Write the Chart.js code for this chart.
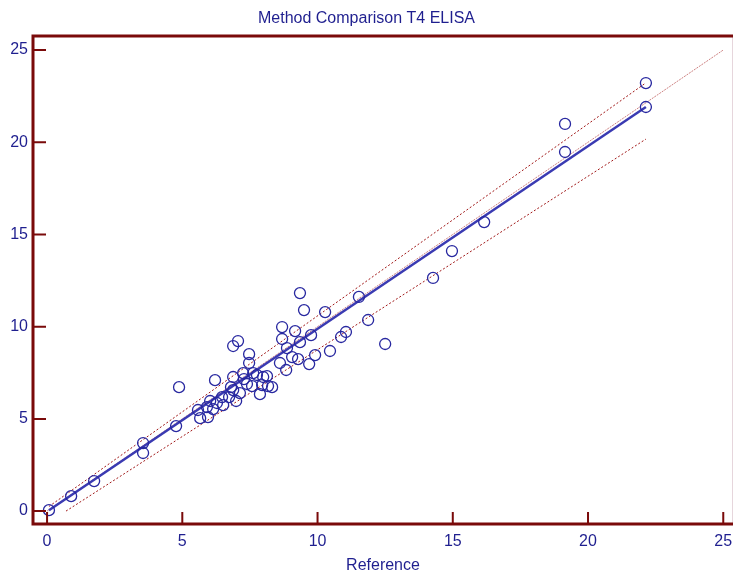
<!DOCTYPE html>
<html>
<head>
    <title>Method Comparison T4 ELISA</title>
    <script src="https://cdn.jsdelivr.net/npm/chart.js"></script>
    <style>
        body { margin: 0; background: #fff; }
        #wrap { width: 734px; height: 571px; }
    </style>
</head>
<body>
    <div id="wrap"><canvas id="grafik"></canvas></div>
<script>
    // measured values (reference method vs T4 ELISA)
    const refValues = [0.07, 0.89, 1.74, 3.55, 3.55, 4.77, 4.88, 5.58, 5.66, 5.95, 5.91, 6.03, 6.14, 6.28,
        6.51, 6.47, 6.73, 6.99, 7.13, 6.80, 6.21, 6.88, 7.25, 7.62, 7.76, 7.99, 8.13, 7.39, 7.58, 7.95,
        8.17, 8.32, 7.87, 6.88, 7.06, 7.47, 7.47, 8.61, 8.84, 9.06, 9.28, 9.91, 9.69, 10.46, 8.87, 8.69,
        8.69, 9.17, 9.35, 9.76, 10.87, 11.05, 9.35, 9.50, 10.28, 11.53, 11.87, 12.50, 14.27, 14.97, 16.16,
        19.15, 19.15, 22.14, 22.14, 6.88, 7.28];
    const elisaValues = [0.05, 0.81, 1.63, 3.69, 3.15, 4.61, 6.72, 5.48, 5.04, 5.10, 5.64, 5.97, 5.53, 5.86,
        5.75, 6.18, 6.18, 5.97, 6.40, 6.72, 7.10, 7.27, 7.48, 7.48, 7.38, 7.27, 7.32, 6.89, 6.78, 6.83,
        6.78, 6.72, 6.34, 8.95, 9.22, 8.51, 8.03, 8.03, 7.65, 8.35, 8.24, 8.46, 7.97, 8.68, 8.84, 9.33,
        9.98, 9.76, 9.16, 9.54, 9.44, 9.71, 11.82, 10.90, 10.79, 11.61, 10.36, 9.06, 12.64, 14.10, 15.67,
        20.99, 19.47, 23.21, 21.91, 6.56, 7.16];

    // fitted lines: [x start, x end] and [y start, y end]
    const regX = [0.07, 22.14];
    const regY = [0.05, 21.91];
    const upperX = [0.07, 22.14];
    const upperY = [0.25, 23.22];
    const lowerX = [0.7, 22.14];
    const lowerY = [0.0, 20.17];
    const identX = [0, 25];
    const identY = [0, 25];

    const tickValues = [0, 5, 10, 15, 20, 25];

    const textColor = '#1f1f8f';
    const frameColor = '#7a0a0a';

    function pairs(xs, ys) {
        return xs.map((x, i) => ({ x: x, y: ys[i] }));
    }

    // frame with inward tick marks
    const framePlugin = {
        id: 'frame',
        afterDraw(chart) {
            const c = chart.ctx;
            const a = chart.chartArea;
            const xs = chart.scales.x;
            const ys = chart.scales.y;
            c.save();
            c.strokeStyle = '#e6d6dc';
            c.lineWidth = 1;
            c.beginPath();
            c.moveTo(a.right - 0.5, a.top);
            c.lineTo(a.right - 0.5, a.bottom);
            c.stroke();

            c.strokeStyle = frameColor;
            c.lineWidth = 3;
            c.beginPath();
            c.moveTo(a.right, a.top);
            c.lineTo(a.left, a.top);
            c.lineTo(a.left, a.bottom);
            c.lineTo(a.right, a.bottom);
            c.stroke();

            c.lineWidth = 2;
            c.beginPath();
            tickValues.forEach(v => {
                const px = xs.getPixelForValue(v);
                c.moveTo(px, a.bottom);
                c.lineTo(px, a.bottom - 12);
                const py = ys.getPixelForValue(v);
                c.moveTo(a.left, py);
                c.lineTo(a.left + 13, py);
            });
            c.stroke();
            c.restore();
        }
    };

    const ctx = document.getElementById('grafik').getContext('2d');

    var grafik = new Chart(ctx, {
        type: 'scatter',
        data: {
            datasets: [
                {
                    label: 'Identity',
                    data: pairs(identX, identY),
                    showLine: true,
                    borderColor: '#cc8080',
                    borderWidth: 1,
                    borderDash: [2, 1],
                    pointRadius: 0,
                    order: 4
                },
                {
                    label: 'Upper',
                    data: pairs(upperX, upperY),
                    showLine: true,
                    borderColor: '#a01818',
                    borderWidth: 1,
                    borderDash: [2, 2],
                    pointRadius: 0,
                    order: 3
                },
                {
                    label: 'Lower',
                    data: pairs(lowerX, lowerY),
                    showLine: true,
                    borderColor: '#a01818',
                    borderWidth: 1,
                    borderDash: [2, 2],
                    pointRadius: 0,
                    order: 3
                },
                {
                    label: 'Regression',
                    data: pairs(regX, regY),
                    showLine: true,
                    borderColor: '#3a3ab2',
                    borderWidth: 2.5,
                    pointRadius: 0,
                    order: 2
                },
                {
                    label: 'T4 ELISA',
                    data: pairs(refValues, elisaValues),
                    pointStyle: 'circle',
                    pointRadius: 5.5,
                    pointBorderWidth: 1.3,
                    borderColor: '#2828a0',
                    backgroundColor: 'rgba(0,0,0,0)',
                    order: 1
                }
            ]
        },
        options: {
            responsive: true,
            maintainAspectRatio: false,
            animation: false,
            layout: { autoPadding: false, padding: { top: 0, right: 1, bottom: 0, left: 0 } },
            plugins: {
                legend: { display: false },
                tooltip: { enabled: false },
                title: {
                    display: true,
                    text: 'Method Comparison T4 ELISA',
                    color: textColor,
                    font: { family: 'Liberation Sans', size: 16, weight: 'normal', lineHeight: 1.2 },
                    padding: { top: 9.4, bottom: 7.4 }
                }
            },
            scales: {
                x: {
                    type: 'linear',
                    min: -0.52,
                    max: 25.36,
                    afterBuildTicks: s => { s.ticks = tickValues.map(v => ({ value: v })); },
                    afterFit: s => { s.height = 47; s.paddingLeft = 0; s.paddingRight = 0; },
                    grid: { display: false, drawTicks: true, tickLength: 8, tickColor: 'rgba(0,0,0,0)' },
                    border: { display: false },
                    ticks: {
                        color: textColor,
                        padding: 0,
                        maxRotation: 0,
                        font: { family: 'Liberation Sans', size: 16 }
                    },
                    title: {
                        display: true,
                        text: 'Reference',
                        color: textColor,
                        padding: { top: 0, bottom: -3 },
                        font: { family: 'Liberation Sans', size: 16, lineHeight: 1.0 }
                    }
                },
                y: {
                    type: 'linear',
                    min: -0.7,
                    max: 25.76,
                    afterBuildTicks: s => { s.ticks = tickValues.map(v => ({ value: v })); },
                    afterFit: s => { s.width = 33; s.paddingTop = 0; s.paddingBottom = 0; },
                    grid: { display: false, drawTicks: false },
                    border: { display: false },
                    ticks: {
                        color: textColor,
                        padding: 5,
                        font: { family: 'Liberation Sans', size: 16 }
                    }
                }
            }
        },
        plugins: [framePlugin]
    });
</script>
</body>
</html>
